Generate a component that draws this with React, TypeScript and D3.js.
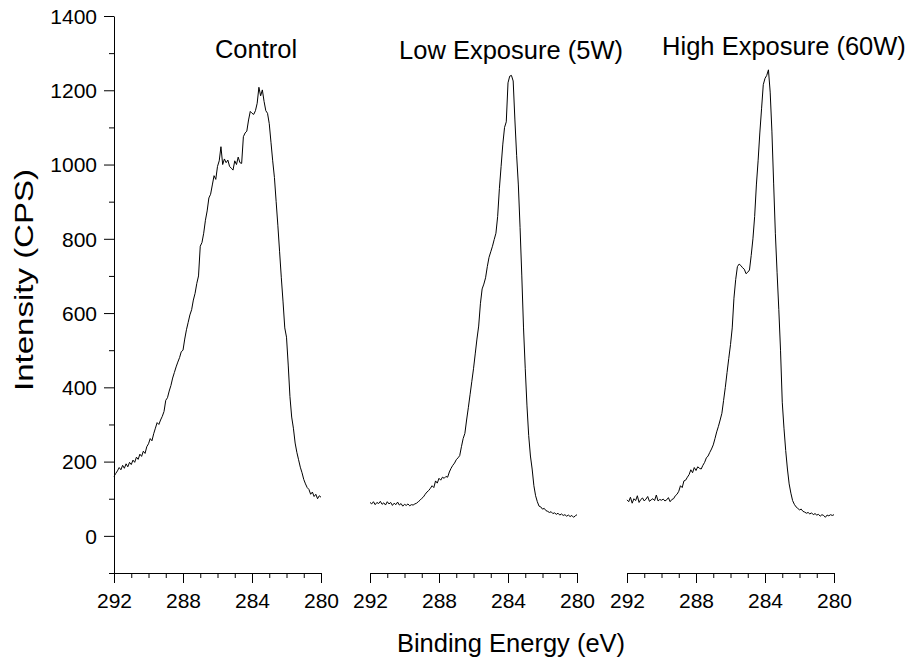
import React, { useRef, useEffect } from 'react';
import * as d3 from 'd3';

// spectra sampled from 292.0 eV down to 280.0 eV in 0.1 eV steps
const E_START = 292;
const E_STEP = 0.1;

const controlCounts = [
  160, 168, 175, 184, 178, 190, 182, 194, 186, 198,
  192, 204, 198, 212, 206, 220, 214, 228, 222, 240,
  248, 262, 256, 275, 290, 305, 300, 312, 322, 335,
  365, 372, 390, 405, 425, 440, 455, 468, 480, 496,
  500, 530, 555, 575, 595, 609, 635, 653, 680, 700,
  780, 790, 815, 850, 875, 910, 920, 945, 970, 960,
  995, 1010, 1048, 1000, 1015, 1005, 1012, 995, 990, 985,
  1010, 1000, 1020, 1005, 1003, 1075, 1085, 1090, 1120, 1143,
  1138, 1135, 1145, 1165, 1208, 1185, 1201, 1170, 1145, 1138,
  1110, 1060, 1010, 965, 900, 835, 765, 695, 630, 560,
  535, 460, 375, 320, 290, 250, 225, 205, 185, 170,
  152, 140, 130, 125, 112, 118, 106, 112, 100, 108,
  104,
];

const lowCounts = [
  90, 86, 92, 84, 90, 87, 93, 85, 89, 83,
  92, 86, 90, 82, 88, 84, 91, 83, 87, 80,
  85, 82, 86, 81, 84, 83, 86, 88, 92, 96,
  101, 105, 112, 118, 122, 128, 135, 130, 148, 142,
  155, 150, 158, 155, 160, 158, 172, 182, 190, 196,
  205, 210, 216, 240, 262, 276, 312, 345, 380, 415,
  450, 490, 530, 565, 625, 665, 678, 695, 725, 750,
  765, 780, 798, 815, 860, 935, 995, 1055, 1100, 1115,
  1220, 1238, 1240, 1225, 1120, 1025, 945, 830, 700, 560,
  450, 350, 270, 215, 180, 135, 108, 92, 80, 78,
  72, 74, 68, 66, 63, 65, 60, 62, 58, 61,
  56, 59, 55, 57, 53, 56, 52, 55, 50, 54,
  57,
];

const highCounts = [
  97, 92, 104, 88, 100, 95, 108, 90, 98, 102,
  94, 99, 106, 93, 97, 100, 95, 110, 94, 98,
  96, 99, 94, 97, 103, 92, 98, 100, 108, 112,
  120, 135, 130, 148, 150, 158, 165, 178, 170, 184,
  176, 186, 182, 180, 190, 198, 210, 215, 225, 234,
  245, 262, 280, 295, 312, 330, 365, 400, 440, 478,
  515, 560, 640, 690, 725, 732, 728, 722, 718, 706,
  710, 716, 755, 800, 860, 945, 1010, 1085, 1150, 1215,
  1232, 1240, 1255, 1195, 1090, 950, 815, 710, 610, 500,
  360, 290, 230, 180, 140, 115, 95, 85, 78, 74,
  70, 72, 66, 64, 61, 63, 59, 62, 57, 60,
  56, 58, 53, 57, 55, 50, 56, 54, 57, 55,
  57,
];

const panelTitles = ['Control', 'Low Exposure (5W)', 'High Exposure (60W)'];
const xMajorTicks = [292, 288, 284, 280];
const xMinorTicks = [291, 290, 289, 287, 286, 285, 283, 282, 281];
const yMajorTicks = [0, 200, 400, 600, 800, 1000, 1200, 1400];
const yMinorTicks = [-100, 100, 300, 500, 700, 900, 1100, 1300];

const W = 911;
const H = 662;
const FONT = "'Liberation Sans', Arial, sans-serif";
const panelLeft = [114, 370, 627];
const panelWidth = 207;
const titleX = [256, 511, 784];
const titleY = [58, 59, 55];
const yTop = 16;
const yBottom = 573;

const App: React.FC = () => {
  const svgRef = useRef<SVGSVGElement | null>(null);
  const series = [controlCounts, lowCounts, highCounts];

  const y = d3.scaleLinear().domain([-100, 1400]).range([yBottom, yTop]);
  const xScales = panelLeft.map((l) =>
    d3.scaleLinear().domain([292, 280]).range([l, l + panelWidth])
  );

  useEffect(() => {
    if (!svgRef.current) return;
    const svg = d3.select(svgRef.current);
    svg.selectAll('.axis').remove();

    // y axis on the first panel only
    const yg = svg
      .append('g')
      .attr('class', 'axis')
      .attr('transform', `translate(${panelLeft[0]},0)`);
    yg.call(
      d3.axisLeft(y).tickValues(yMajorTicks).tickSize(10).tickSizeOuter(0).tickPadding(7).tickFormat(d3.format('d'))
    );
    yg.append('g')
      .call(d3.axisLeft(y).tickValues(yMinorTicks).tickSize(5).tickSizeOuter(0).tickFormat(() => ''))
      .select('.domain')
      .remove();
    yg.selectAll('text').attr('font-size', 21).attr('font-family', FONT).attr('dy', '0.35em');

    xScales.forEach((x) => {
      const xg = svg
        .append('g')
        .attr('class', 'axis')
        .attr('transform', `translate(0,${yBottom})`);
      xg.call(d3.axisBottom(x).tickValues(xMajorTicks).tickSize(10).tickSizeOuter(0).tickFormat(d3.format('d')));
      xg.append('g')
        .call(d3.axisBottom(x).tickValues(xMinorTicks).tickSize(5).tickSizeOuter(0).tickFormat(() => ''))
        .select('.domain')
        .remove();
      xg.selectAll('text')
        .attr('font-size', 21)
        .attr('font-family', FONT)
        .attr('y', 35)
        .attr('dy', null);
    });
  }, []);

  return (
    <svg
      ref={svgRef}
      width={W}
      height={H}
      style={{ position: 'absolute', left: 0, top: 0, background: '#fff' }}
    >
      {series.map((s, k) => {
        const x = xScales[k];
        const line = d3
          .line<number>()
          .x((_, i) => x(E_START - i * E_STEP))
          .y((d) => y(d));
        return (
          <path key={k} d={line(s) || ''} fill="none" stroke="#000" strokeWidth={1} />
        );
      })}
      {panelTitles.map((t, k) => (
        <text
          key={t}
          x={titleX[k]}
          y={titleY[k]}
          textAnchor="middle"
          fontFamily={FONT}
          fontSize={25.5}
        >
          {t}
        </text>
      ))}
      <text x={511} y={652} textAnchor="middle" fontFamily={FONT} fontSize={25.5}>
        Binding Energy (eV)
      </text>
      <text
        transform="translate(33,280) rotate(-90)"
        textAnchor="middle"
        fontFamily={FONT}
        fontSize={26}
        textLength={222}
        lengthAdjust="spacingAndGlyphs"
      >
        Intensity (CPS)
      </text>
    </svg>
  );
};

export default App;
